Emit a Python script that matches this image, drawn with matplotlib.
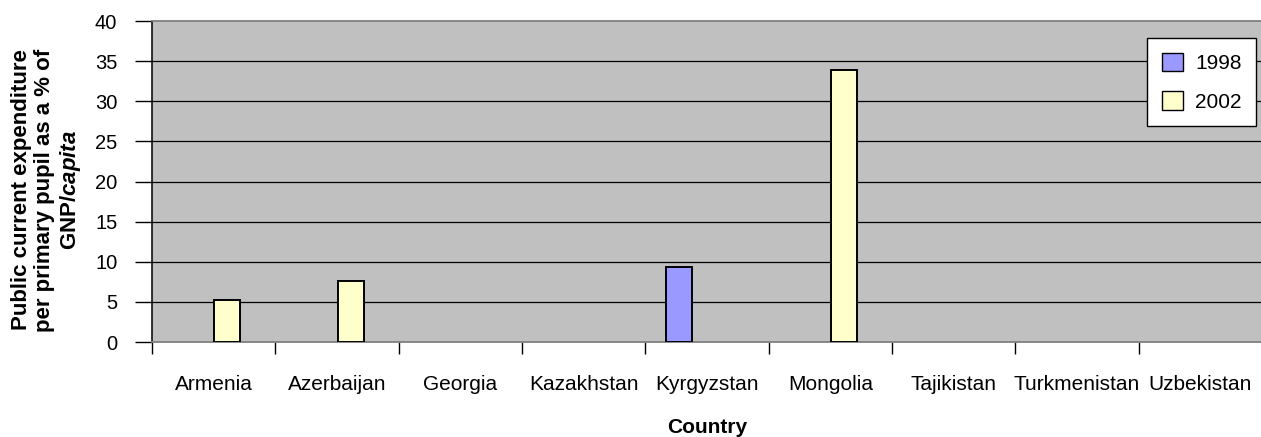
import numpy as np
import matplotlib
matplotlib.use("Agg")
import matplotlib.pyplot as plt
from matplotlib.patches import Patch

plt.rcParams['font.family'] = ['Liberation Sans', 'DejaVu Sans']
plt.rcParams['font.sans-serif'] = ['Liberation Sans', 'DejaVu Sans']
plt.rcParams['mathtext.fontset'] = 'custom'
plt.rcParams['mathtext.bfit'] = 'Liberation Sans:italic:bold'
plt.rcParams['mathtext.bf'] = 'Liberation Sans:bold'

countries = ["Armenia", "Azerbaijan", "Georgia", "Kazakhstan", "Kyrgyzstan",
             "Mongolia", "Tajikistan", "Turkmenistan", "Uzbekistan"]
values_1998 = [np.nan, np.nan, np.nan, np.nan, 9.4, np.nan, np.nan, np.nan, np.nan]
values_2002 = [5.2, 7.6, np.nan, np.nan, np.nan, 33.9, np.nan, np.nan, np.nan]
series_labels = ["1998", "2002"]
y_ticks = [0, 5, 10, 15, 20, 25, 30, 35, 40]

W, H = 1261, 437
fig = plt.figure(figsize=(W / 100, H / 100), dpi=100)
ax = fig.add_axes([152 / W, (H - 342) / H, (1262 - 152) / W, (342 - 21) / H])
ax.set_facecolor("#C0C0C0")

x = np.arange(len(countries))
bar_w = 0.21
ax.bar(x - 0.225, values_1998, width=bar_w, color="#9999FF",
       edgecolor="black", linewidth=1.4, zorder=3)
ax.bar(x + 0.11, values_2002, width=bar_w, color="#FFFFCC",
       edgecolor="black", linewidth=1.4, zorder=3)

ax.set_xlim(-0.5, len(countries) - 0.5)
ax.set_ylim(0, 40)
ax.set_yticks(y_ticks)
ax.set_yticklabels([str(t) for t in y_ticks], fontsize=14.5)

# category ticks sit on the boundaries; labels sit at centres
ax.set_xticks(np.arange(len(countries) + 1) - 0.5)
ax.set_xticklabels([])
ax.set_xticks(x, minor=True)
ax.set_xticklabels(countries, minor=True, fontsize=15)
ax.tick_params(axis="x", which="minor", length=0, pad=24)
ax.tick_params(axis="x", which="major", length=8.6, width=1, color="black",
               direction="out")
ax.tick_params(axis="y", length=12, width=1, color="black", direction="out",
               pad=13)

for yv in y_ticks[1:-1]:
    ax.axhline(yv, color="black", linewidth=0.9, zorder=1)

ax.spines["left"].set_color("black")
ax.spines["left"].set_linewidth(1.1)
for s in ("top", "bottom", "right"):
    ax.spines[s].set_color("#808080")
    ax.spines[s].set_linewidth(1.3)

ax.set_xlabel("Country", fontsize=15, fontweight="bold", labelpad=17)
fig.text(47 / W, 1 - 190 / H,
         "Public current expenditure\nper primary pupil as a % of\n"
         r"GNP/$\mathbfit{capita}$",
         rotation=90, ha="center", va="center", multialignment="center",
         fontsize=16, fontweight="bold", linespacing=1.15)

handles = [Patch(facecolor="#9999FF", edgecolor="black", linewidth=1),
           Patch(facecolor="#FFFFCC", edgecolor="black", linewidth=1)]
leg = ax.legend(handles, series_labels, loc="upper left",
                bbox_to_anchor=(1147 / W, (H - 38) / H),
                bbox_transform=fig.transFigure, fontsize=15, frameon=True,
                fancybox=False, edgecolor="black", framealpha=1,
                handlelength=1.05, handleheight=1.0, handletextpad=0.55,
                labelspacing=0.88, borderpad=0.7, borderaxespad=0)
leg.get_frame().set_linewidth(1)

fig.savefig("out.png", dpi=100)
